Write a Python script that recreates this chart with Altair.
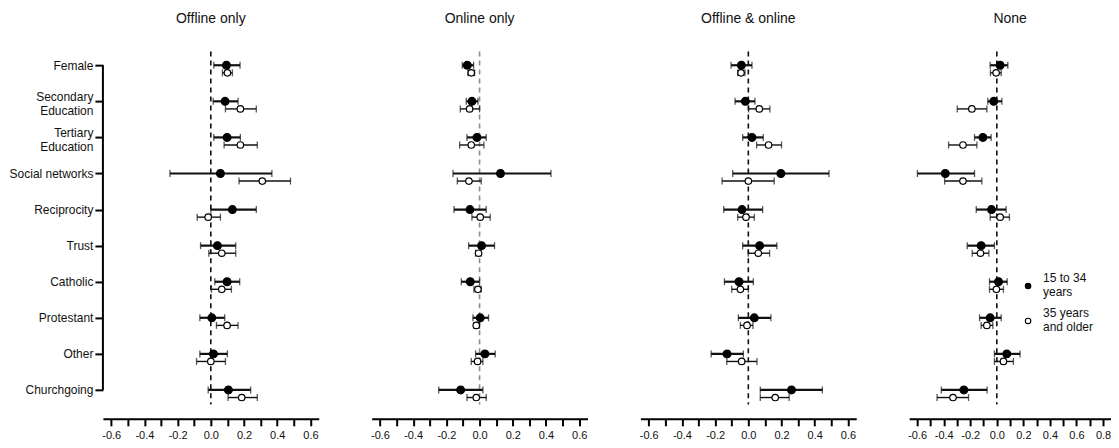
import json
import altair as alt
import pandas as pd

# ---------------- data ----------------
CATEGORIES = ["Female", "Secondary Education", "Tertiary Education", "Social networks",
              "Reciprocity", "Trust", "Catholic", "Protestant", "Other", "Churchgoing"]
CATEGORY_LINES = [["Female"], ["Secondary", "Education"], ["Tertiary", "Education"],
                  ["Social networks"], ["Reciprocity"], ["Trust"], ["Catholic"],
                  ["Protestant"], ["Other"], ["Churchgoing"]]
GROUPS = ["15 to 34 years", "35 years and older"]
GROUP_LINES = [["15 to 34", "years"], ["35 years", "and older"]]
PANELS = ["Offline only", "Online only", "Offline & online", "None"]

# Offline only
off_young_est = [0.094, 0.086, 0.098, 0.058, 0.130, 0.040, 0.098, 0.006, 0.016, 0.106]
off_young_lo = [0.018, 0.014, 0.018, -0.246, 0.000, -0.062, 0.024, -0.066, -0.066, -0.016]
off_young_hi = [0.176, 0.164, 0.178, 0.368, 0.274, 0.150, 0.174, 0.084, 0.100, 0.240]
off_old_est = [0.100, 0.178, 0.178, 0.310, -0.016, 0.066, 0.066, 0.098, 0.000, 0.186]
off_old_lo = [0.070, 0.088, 0.080, 0.170, -0.082, -0.012, 0.004, 0.034, -0.086, 0.104]
off_old_hi = [0.130, 0.274, 0.280, 0.480, 0.058, 0.150, 0.124, 0.164, 0.088, 0.280]

# Online only
on_young_est = [-0.074, -0.046, -0.016, 0.126, -0.058, 0.012, -0.056, 0.004, 0.032, -0.114]
on_young_lo = [-0.104, -0.080, -0.076, -0.160, -0.154, -0.066, -0.110, -0.040, -0.024, -0.246]
on_young_hi = [-0.036, -0.010, 0.040, 0.430, 0.040, 0.090, 0.000, 0.054, 0.094, 0.020]
on_old_est = [-0.050, -0.060, -0.050, -0.064, 0.004, -0.006, -0.010, -0.020, -0.012, -0.020]
on_old_lo = [-0.070, -0.116, -0.120, -0.134, -0.046, -0.024, -0.034, -0.034, -0.050, -0.076]
on_old_hi = [-0.030, 0.000, 0.026, 0.010, 0.064, 0.010, 0.010, 0.000, 0.020, 0.040]

# Offline & online
both_young_est = [-0.042, -0.018, 0.022, 0.196, -0.038, 0.068, -0.056, 0.036, -0.128, 0.260]
both_young_lo = [-0.104, -0.080, -0.034, -0.094, -0.148, -0.034, -0.144, -0.060, -0.224, 0.072]
both_young_hi = [0.022, 0.040, 0.090, 0.486, 0.086, 0.172, 0.030, 0.136, -0.030, 0.446]
both_old_est = [-0.044, 0.066, 0.122, 0.000, -0.014, 0.060, -0.048, -0.008, -0.040, 0.162]
both_old_lo = [-0.064, 0.002, 0.050, -0.158, -0.064, 0.000, -0.100, -0.048, -0.130, 0.072]
both_old_hi = [-0.020, 0.130, 0.200, 0.156, 0.036, 0.128, 0.000, 0.028, 0.052, 0.246]

# None
none_young_est = [0.025, -0.023, -0.105, -0.388, -0.040, -0.118, 0.013, -0.050, 0.075, -0.248]
none_young_lo = [-0.050, -0.068, -0.168, -0.598, -0.155, -0.223, -0.055, -0.130, -0.018, -0.418]
none_young_hi = [0.083, 0.038, -0.043, -0.168, 0.070, -0.018, 0.078, 0.033, 0.175, -0.073]
none_old_est = [-0.005, -0.188, -0.255, -0.255, 0.025, -0.123, -0.003, -0.075, 0.050, -0.330]
none_old_lo = [-0.048, -0.298, -0.363, -0.393, -0.050, -0.185, -0.055, -0.118, -0.018, -0.450]
none_old_hi = [0.033, -0.075, -0.150, -0.113, 0.095, -0.060, 0.050, -0.030, 0.125, -0.213]

TICKS_A = [-0.6, -0.5, -0.4, -0.3, -0.2, -0.1, 0.0, 0.1, 0.2, 0.3, 0.4, 0.5, 0.6]
TICKS_B = [-0.6, -0.5, -0.4, -0.3, -0.2, -0.1, 0.0, 0.1, 0.2, 0.3, 0.4, 0.5, 0.6, 0.7, 0.8]

PANEL_SERIES = [
    (off_young_est, off_young_lo, off_young_hi, off_old_est, off_old_lo, off_old_hi),
    (on_young_est, on_young_lo, on_young_hi, on_old_est, on_old_lo, on_old_hi),
    (both_young_est, both_young_lo, both_young_hi, both_old_est, both_old_lo, both_old_hi),
    (none_young_est, none_young_lo, none_young_hi, none_old_est, none_old_lo, none_old_hi),
]

# ---------------- style ----------------
FONT = "Liberation Sans"
X_DOMAINS = [[-0.65, 0.65], [-0.65, 0.65], [-0.65, 0.65], [-0.66, 0.86]]
WIDTHS = [216, 216, 216, 202]
X_TICKS = [TICKS_A, TICKS_A, TICKS_A, TICKS_B]
ZERO_COLORS = ["#111111", "#8c8c8c", "#111111", "#111111"]
HEIGHT = 377
Y_DOMAIN = [-0.64, 9.80]
ZERO_SPAN = (-0.38, 9.40)
OLD_OFFSET = 0.21
LINE_WIDTHS = [2.2, 1.4]
POINT_SIZES = [60, 42]


def panel_frame(series):
    ye, yl, yh, oe, ol, oh = series
    rows = []
    for i, cat in enumerate(CATEGORIES):
        rows.append(dict(cat=cat, idx=i, group=GROUPS[0], gidx=0, est=ye[i], lo=yl[i], hi=yh[i]))
        rows.append(dict(cat=cat, idx=i, group=GROUPS[1], gidx=1, est=oe[i], lo=ol[i], hi=oh[i]))
    return pd.DataFrame(rows)


x_label_expr = ("abs(round(datum.value*10)) % 2 == 0 ? "
                "(datum.value < -0.001 ? '-' : '') + format(abs(datum.value), '.1f') : ''")
y_label_expr = json.dumps(CATEGORY_LINES) + "[round(datum.value)]"
multi_idx = [i for i, lines in enumerate(CATEGORY_LINES) if len(lines) > 1]
multi_test = f"indexof({json.dumps(multi_idx)}, round(datum.value)) >= 0"
y_baseline = {"condition": {"test": multi_test, "value": "line-bottom"}, "value": "middle"}
y_label_offset = {"condition": {"test": multi_test, "value": 3}, "value": 0}
legend_label_expr = ("datum.label == " + json.dumps(GROUPS[0]) + " ? " + json.dumps(GROUP_LINES[0])
                     + " : " + json.dumps(GROUP_LINES[1]))

LEGEND = alt.Legend(orient="none", legendX=920, legendY=238, title=None,
                    labelExpr=legend_label_expr, symbolType="circle", symbolSize=30,
                    symbolStrokeColor="black", symbolStrokeWidth=1.1, labelFontSize=12,
                    labelFont=FONT, labelColor="#111", rowPadding=9, labelOffset=9,
                    labelBaseline="line-bottom", padding=0)
FILL_SCALE = alt.Scale(domain=GROUPS, range=["black", "white"])


def make_panel(p):
    df = panel_frame(PANEL_SERIES[p])
    xscale = alt.Scale(domain=X_DOMAINS[p], nice=False, zero=False)
    yscale = alt.Scale(domain=Y_DOMAIN, nice=False, zero=False, reverse=True)
    xaxis = alt.Axis(values=X_TICKS[p], labelExpr=x_label_expr, title=None, grid=False,
                     domainColor="black", domainWidth=2, tickColor="black", tickWidth=2,
                     tickSize=7, labelFontSize=11, labelColor="#111", labelPadding=4,
                     labelFont=FONT, labelFlush=False)
    if p == 0:
        yaxis = alt.Axis(values=list(range(len(CATEGORIES))), labelExpr=y_label_expr, title=None,
                         grid=False, domain=False, tickColor="black", tickWidth=2, tickSize=8,
                         labelFontSize=12, labelColor="#111", labelPadding=2, labelFont=FONT,
                         labelLineHeight=14.5, labelBound=False, labelBaseline=y_baseline,
                         labelOffset=y_label_offset)
    else:
        yaxis = None

    base = alt.Chart(df).transform_calculate(
        ypos=f"datum.idx + datum.gidx * {OLD_OFFSET}"
    )
    y = alt.Y("ypos:Q", scale=yscale, axis=yaxis)

    one = pd.DataFrame({"zero": [0]})
    zero_line = alt.Chart(one).mark_rule(strokeDash=[5, 4], strokeWidth=1.6,
                                         color=ZERO_COLORS[p]).encode(
        x=alt.X("zero:Q", scale=xscale, axis=xaxis),
        y=alt.Y(datum=ZERO_SPAN[0], scale=yscale, axis=yaxis),
        y2=alt.Y2(datum=ZERO_SPAN[1]),
    )
    layers = [zero_line]
    if p == 0:
        y_line = alt.Chart(one).mark_rule(strokeWidth=2, color="black").encode(
            x=alt.value(0),
            y=alt.Y(datum=0, scale=yscale, axis=yaxis),
            y2=alt.Y2(datum=len(CATEGORIES) - 1),
        )
        layers.insert(0, y_line)

    for g in range(len(GROUPS)):
        sub = base.transform_filter(f"datum.gidx == {g}")
        lines = sub.mark_rule(color="#111", strokeWidth=LINE_WIDTHS[g]).encode(
            x=alt.X("lo:Q", scale=xscale, axis=xaxis), x2="hi:Q", y=y
        )
        ticks = sub.transform_fold(["lo", "hi"], as_=["end", "val"]).mark_tick(
            orient="vertical", size=7, thickness=1.3, color="#111"
        ).encode(x=alt.X("val:Q", scale=xscale, axis=xaxis), y=y)
        layers += [lines, ticks]

    for g in range(len(GROUPS)):
        sub = base.transform_filter(f"datum.gidx == {g}")
        points = sub.mark_point(shape="circle", opacity=1, stroke="black", strokeWidth=1.2,
                                size=POINT_SIZES[g]).encode(
            x=alt.X("est:Q", scale=xscale, axis=xaxis), y=y,
            fill=alt.Fill("group:N", scale=FILL_SCALE, legend=LEGEND),
        )
        layers.append(points)

    return alt.layer(*layers).properties(
        width=WIDTHS[p], height=HEIGHT,
        title=alt.TitleParams(PANELS[p], fontSize=14, fontWeight="normal", font=FONT,
                              color="#111", frame="group", anchor="middle", offset=16),
    )


chart = alt.hconcat(*[make_panel(p) for p in range(4)], spacing=53, bounds="flush").resolve_scale(
    x="independent"
).configure_view(stroke=None).properties(padding={"left": 0, "top": 4, "right": 0, "bottom": 0})

chart.save("out.html", embed_options={"renderer": "svg", "actions": False})
